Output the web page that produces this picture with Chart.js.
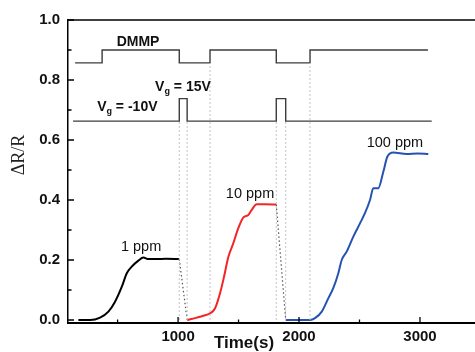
<!DOCTYPE html>
<html>
<head>
<meta charset="utf-8">
<script src="https://cdn.jsdelivr.net/npm/chart.js@4.4.0/dist/chart.umd.min.js"></script>
<style>
  html, body { margin: 0; padding: 0; background: #fff; }
</style>
</head>
<body>
<canvas id="myChart" width="475" height="352"></canvas>
<script>
// ---- data ----
// 1 ppm (black)
let blackT = [176, 273, 355, 424, 479, 535, 576, 617, 672, 713, 755, 824, 900, 1010]
let blackV = [0.0, 0.0, 0.008, 0.028, 0.061, 0.111, 0.156, 0.178, 0.198, 0.208, 0.203, 0.203, 0.204, 0.203]
// 10 ppm (red)
let redT = [1075, 1155, 1209, 1264, 1306, 1347, 1380, 1416, 1457, 1498, 1540, 1581, 1609, 1650, 1720, 1812]
let redV = [0.0, 0.008, 0.014, 0.022, 0.039, 0.089, 0.144, 0.211, 0.256, 0.306, 0.342, 0.350, 0.367, 0.386, 0.386, 0.385]
// 100 ppm (blue)
let blueT = [1890, 2008, 2091, 2132, 2188, 2242, 2283, 2325, 2353, 2394, 2449, 2504, 2545, 2587, 2614, 2655, 2697, 2730, 2779, 2890, 2980, 3069]
let blueV = [0.0, 0.0, 0.0, 0.006, 0.028, 0.072, 0.106, 0.156, 0.2, 0.228, 0.278, 0.322, 0.356, 0.4, 0.439, 0.439, 0.494, 0.544, 0.558, 0.553, 0.555, 0.553]

// DMMP on/off trace and gate voltage trace (step levels)
let dmmpT = [149, 372, 1010, 1264, 1812, 2091, 3066]
let dmmpV = [0.857, 0.9, 0.857, 0.9, 0.857, 0.9, 0.9]
let vgT = [132, 1010, 1075, 1812, 1890, 3097]
let vgV = [0.663, 0.738, 0.663, 0.738, 0.663, 0.663]

// light dashed guides at the switching times
let guideT = [1010, 1075, 1264, 1812, 1890, 2091]
let guideTop = [0.663, 0.663, 0.857, 0.663, 0.663, 0.857]

// ticks
let xMajor = [1000, 2000, 3000]
let xMinor = [500, 1500, 2500]
let yMajor = [0.0, 0.2, 0.4, 0.6, 0.8, 1.0]
let yMinor = [0.1, 0.3, 0.5, 0.7, 0.9]

// labels on the plot
let ppmLabels = ['1 ppm', '10 ppm', '100 ppm']
let ppmAt = [[694, 0.243], [1595, 0.42], [2793, 0.59]]

const pts = (t, v) => t.map((x, i) => ({x: x, y: v[i]}))

let datasets = []
// guides
guideT.forEach((t, i) => {
  datasets.push({
    data: [{x: t, y: 0}, {x: t, y: guideTop[i]}],
    borderColor: '#c4c4c4', borderWidth: 1, borderDash: [2, 2], pointRadius: 0
  })
})
// black dotted connectors between runs
datasets.push({
  data: [{x: blackT[blackT.length - 1], y: blackV[blackV.length - 1]}, {x: redT[0], y: redV[0]}],
  borderColor: '#555', borderWidth: 1.2, borderDash: [1.5, 2.5], pointRadius: 0
})
datasets.push({
  data: [{x: redT[redT.length - 1], y: redV[redV.length - 1]}, {x: blueT[0], y: blueV[0]}],
  borderColor: '#555', borderWidth: 1.2, borderDash: [1.5, 2.5], pointRadius: 0
})
// step traces
datasets.push({ data: pts(dmmpT, dmmpV), stepped: 'before', borderColor: '#3c3c3c', borderWidth: 1.4, pointRadius: 0 })
datasets.push({ data: pts(vgT, vgV), stepped: 'before', borderColor: '#3c3c3c', borderWidth: 1.4, pointRadius: 0 })
// response curves
datasets.push({ data: pts(blackT, blackV), borderColor: '#000000', borderWidth: 2, pointRadius: 0, cubicInterpolationMode: 'monotone' })
datasets.push({ data: pts(redT, redV), borderColor: '#f42424', borderWidth: 2, pointRadius: 0, cubicInterpolationMode: 'monotone' })
datasets.push({ data: pts(blueT, blueV), borderColor: '#2553b3', borderWidth: 2, pointRadius: 0, cubicInterpolationMode: 'monotone' })

// inward ticks, top frame line and all the text labels
const decor = {
  id: 'decor',
  afterDraw(chart) {
    let ctx = chart.ctx
    let xs = chart.scales.x, ys = chart.scales.y
    let a = chart.chartArea
    ctx.save()
    ctx.strokeStyle = '#000'
    ctx.lineWidth = 1.5
    ctx.beginPath()
    ctx.moveTo(a.left, a.top); ctx.lineTo(a.right, a.top)
    ctx.stroke()
    ctx.lineWidth = 1.3
    ctx.beginPath()
    yMajor.forEach(v => { let y = ys.getPixelForValue(v); ctx.moveTo(a.left, y); ctx.lineTo(a.left + 6, y) })
    yMinor.forEach(v => { let y = ys.getPixelForValue(v); ctx.moveTo(a.left, y); ctx.lineTo(a.left + 3.5, y) })
    xMajor.forEach(v => { let x = xs.getPixelForValue(v); ctx.moveTo(x, a.bottom); ctx.lineTo(x, a.bottom - 6) })
    xMinor.forEach(v => { let x = xs.getPixelForValue(v); ctx.moveTo(x, a.bottom); ctx.lineTo(x, a.bottom - 3.5) })
    ctx.stroke()

    ctx.fillStyle = '#111'
    ctx.textBaseline = 'middle'
    // ppm labels
    ctx.font = '14.5px Arial, "Liberation Sans", sans-serif'
    ctx.textAlign = 'center'
    ppmLabels.forEach((s, i) => ctx.fillText(s, xs.getPixelForValue(ppmAt[i][0]), ys.getPixelForValue(ppmAt[i][1])))
    // DMMP
    ctx.font = 'bold 14px Arial, "Liberation Sans", sans-serif'
    ctx.fillText('DMMP', xs.getPixelForValue(669), ys.getPixelForValue(0.927))
    // gate voltage labels with subscript g
    const vg = (x0, yv, rest) => {
      let x = xs.getPixelForValue(x0), y = ys.getPixelForValue(yv)
      ctx.textAlign = 'left'
      ctx.font = 'bold 14px Arial, "Liberation Sans", sans-serif'
      ctx.fillText('V', x, y)
      x += ctx.measureText('V').width
      ctx.font = 'bold 9px Arial, "Liberation Sans", sans-serif'
      ctx.fillText('g', x, y + 5)
      x += ctx.measureText('g').width
      ctx.font = 'bold 14px Arial, "Liberation Sans", sans-serif'
      ctx.fillText(rest, x, y)
    }
    vg(810, 0.777, ' = 15V')
    vg(331, 0.71, ' = -10V')
    // axis titles
    ctx.textAlign = 'center'
    ctx.font = 'bold 17px Arial, "Liberation Sans", sans-serif'
    ctx.fillText('Time(s)', 244, 343)
    ctx.translate(19, 155)
    ctx.rotate(-Math.PI / 2)
    ctx.font = '18px "Times New Roman", "Liberation Serif", serif'
    ctx.fillStyle = '#222'
    ctx.fillText('\u0394R/R', 0, 0)
    ctx.restore()
  }
}

let canvas = document.getElementById('myChart')
let ctx = canvas.getContext('2d')
let myChart = new Chart(ctx, {
  type: 'line',
  data: { datasets: datasets },
  options: {
    responsive: false,
    animation: false,
    devicePixelRatio: 1,
    layout: { padding: { top: 20, right: 0, left: 0, bottom: 0 } },
    plugins: { legend: { display: false }, tooltip: { enabled: false } },
    scales: {
      x: {
        type: 'linear', min: 90, max: 3455,
        afterFit: s => { s.height = 29 },
        afterBuildTicks: s => { s.ticks = xMajor.map(v => ({value: v})) },
        grid: { display: false, drawTicks: false },
        border: { display: true, color: '#000', width: 2 },
        ticks: { padding: 5, color: '#111', font: { size: 15, weight: 'bold', family: 'Arial, "Liberation Sans", sans-serif' }, maxRotation: 0, callback: v => String(v) }
      },
      y: {
        type: 'linear', min: -0.01, max: 1.0,
        afterFit: s => { s.width = 68 },
        afterBuildTicks: s => { s.ticks = yMajor.map(v => ({value: v})) },
        grid: { display: false, drawTicks: false },
        border: { display: true, color: '#000', width: 1.5 },
        ticks: { padding: 8, color: '#111', font: { size: 15, weight: 'bold', family: 'Arial, "Liberation Sans", sans-serif' }, callback: v => v.toFixed(1) }
      }
    }
  },
  plugins: [decor]
})
</script>
</body>
</html>
